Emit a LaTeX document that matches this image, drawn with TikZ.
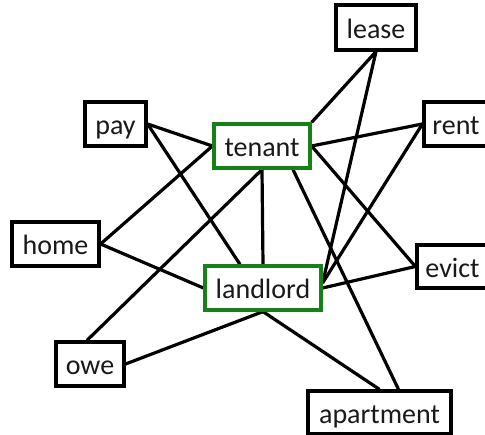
\documentclass[tikz,border=0pt]{standalone}
\usepackage{fontspec}
\setmainfont{Carlito}
\usetikzlibrary{backgrounds}
\definecolor{keygreen}{RGB}{24,128,24}
\tikzset{
  word/.style={draw=black, line width=3.2pt, fill=white, inner sep=0pt,
    text height=22pt, text depth=0pt,
    font=\fontsize{28}{30}\selectfont, text=black!90},
  keyword/.style={word, draw=keygreen},
  link/.style={draw=black, line width=3.2pt}
}
\begin{document}
\begin{tikzpicture}[x=1pt, y=-1pt]
  \useasboundingbox (0,0) rectangle (485,435);
  \clip (0,0) rectangle (485,435);
  % word boxes
  \node[word, minimum width=80pt, minimum height=45pt] (lease) at (376,27.5) {lease};
  \node[word, minimum width=61pt, minimum height=44pt] (pay) at (115.5,124) {pay};
  \node[keyword, minimum width=96pt, minimum height=44pt] (tenant) at (262,146) {tenant};
  \node[word, minimum width=64pt, minimum height=44pt] (rent) at (456,124) {rent};
  \node[word, minimum width=87pt, minimum height=44pt] (home) at (55.5,244) {home};
  \node[keyword, minimum width=116pt, minimum height=44pt] (landlord) at (263,288) {landlord};
  \node[word, minimum width=71pt, minimum height=43pt] (evict) at (452.5,266.5) {evict};
  \node[word, minimum width=68pt, minimum height=44pt] (owe) at (90,364) {owe};
  \node[word, minimum width=143pt, minimum height=43pt] (apartment) at (379.5,412.5) {apartment};
  % connections
  \begin{scope}[on background layer]
    \draw[link] (lease.south) -- (tenant.north east);
    \draw[link] (lease.south) -- ([yshift=5pt]landlord.east);
    \draw[link] (pay.east) -- (tenant.west);
    \draw[link] (pay.east) -- ([xshift=-23pt]landlord.north);
    \draw[link] (home.east) -- (tenant.west);
    \draw[link] (home.east) -- (landlord.west);
    \draw[link] ([xshift=-3pt]owe.north) -- (tenant.south);
    \draw[link] (owe.east) -- (landlord.south);
    \draw[link] (rent.west) -- (tenant.east);
    \draw[link] (rent.west) -- ([yshift=5pt]landlord.east);
    \draw[link] (evict.west) -- (tenant.east);
    \draw[link] (evict.west) -- (landlord.east);
    \draw[link] ([xshift=31pt]tenant.south) -- ([xshift=19pt]apartment.north);
    \draw[link] (landlord.south) -- (apartment.north);
    \draw[link] (tenant.south) -- (landlord.north);
  \end{scope}
\end{tikzpicture}
\end{document}
